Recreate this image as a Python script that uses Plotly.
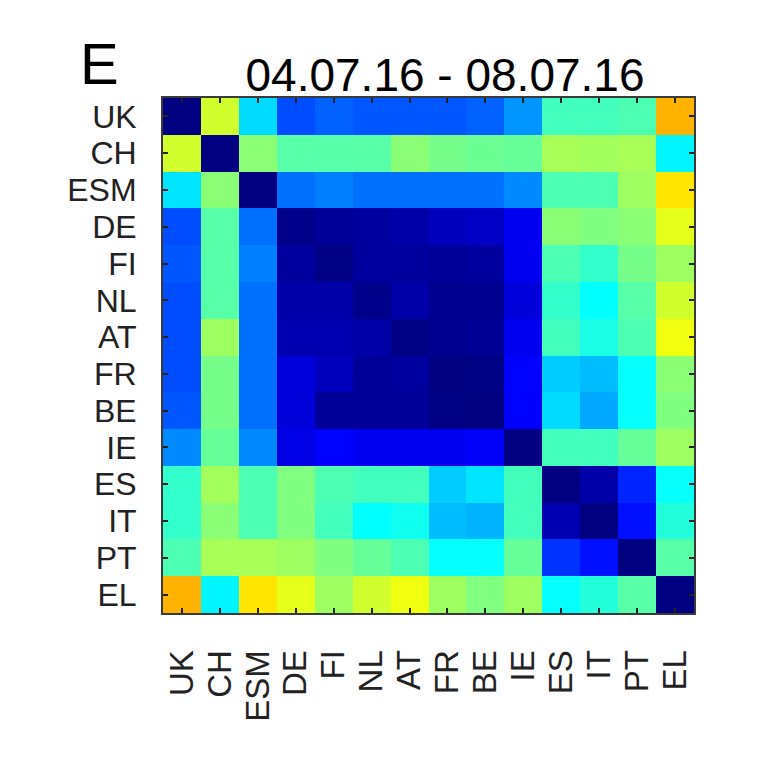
import plotly.graph_objects as go

labels = ["UK", "CH", "ESM", "DE", "FI", "NL", "AT", "FR", "BE", "IE", "ES", "IT", "PT", "EL"]

uk  = [0.00, 0.58, 0.34, 0.20, 0.22, 0.21, 0.21, 0.21, 0.22, 0.27, 0.44, 0.44, 0.45, 0.70]
ch  = [0.58, 0.00, 0.51, 0.46, 0.46, 0.46, 0.51, 0.49, 0.48, 0.475, 0.54, 0.535, 0.54, 0.365]
esm = [0.35, 0.51, 0.00, 0.235, 0.25, 0.235, 0.235, 0.235, 0.235, 0.26, 0.45, 0.45, 0.53, 0.65]
de  = [0.20, 0.46, 0.235, 0.01, 0.025, 0.03, 0.04, 0.06, 0.07, 0.11, 0.51, 0.50, 0.51, 0.60]
fi  = [0.21, 0.46, 0.25, 0.03, 0.005, 0.03, 0.03, 0.025, 0.03, 0.11, 0.45, 0.425, 0.49, 0.53]
nl  = [0.20, 0.46, 0.235, 0.04, 0.04, 0.01, 0.04, 0.015, 0.015, 0.09, 0.425, 0.375, 0.46, 0.58]
at  = [0.20, 0.53, 0.235, 0.05, 0.05, 0.04, 0.005, 0.015, 0.02, 0.11, 0.44, 0.40, 0.45, 0.61]
fr  = [0.20, 0.49, 0.235, 0.09, 0.06, 0.025, 0.03, 0.00, 0.005, 0.125, 0.325, 0.31, 0.38, 0.51]
be  = [0.21, 0.49, 0.235, 0.09, 0.025, 0.025, 0.025, 0.005, 0.00, 0.125, 0.34, 0.29, 0.38, 0.50]
ie  = [0.26, 0.475, 0.26, 0.10, 0.125, 0.11, 0.11, 0.11, 0.12, 0.00, 0.44, 0.44, 0.475, 0.53]
es  = [0.425, 0.535, 0.45, 0.50, 0.45, 0.44, 0.44, 0.325, 0.35, 0.44, 0.00, 0.04, 0.16, 0.38]
it  = [0.425, 0.51, 0.45, 0.50, 0.44, 0.375, 0.39, 0.31, 0.30, 0.44, 0.05, 0.00, 0.14, 0.41]
pt  = [0.45, 0.54, 0.54, 0.53, 0.50, 0.475, 0.45, 0.38, 0.38, 0.475, 0.175, 0.14, 0.00, 0.46]
el  = [0.70, 0.365, 0.65, 0.60, 0.53, 0.58, 0.61, 0.53, 0.50, 0.53, 0.38, 0.41, 0.46, 0.00]

z = [uk, ch, esm, de, fi, nl, at, fr, be, ie, es, it, pt, el]

jet = [[0.0, "rgb(0,0,128)"], [0.125, "rgb(0,0,255)"], [0.375, "rgb(0,255,255)"],
       [0.625, "rgb(255,255,0)"], [0.875, "rgb(255,0,0)"], [1.0, "rgb(128,0,0)"]]

fig = go.Figure(go.Heatmap(z=z, x=labels, y=labels, colorscale=jet, zmin=0, zmax=1,
                           showscale=False, xgap=0, ygap=0))

axis_common = dict(showline=True, linecolor="#3a3a3a", linewidth=2, mirror="allticks",
                   ticks="inside", ticklen=5, tickwidth=2, tickcolor="#222",
                   showgrid=False, zeroline=False, automargin=False,
                   tickmode="array", tickvals=labels, ticktext=labels)

fig.update_xaxes(**axis_common, tickangle=-90, ticklabelstandoff=22,
                 tickfont=dict(family="Liberation Sans, Arial", size=33, color="#222"))
fig.update_yaxes(**axis_common, autorange="reversed", ticklabelstandoff=18,
                 tickfont=dict(family="Liberation Sans, Arial", size=32, color="#222"))

fig.update_layout(
    width=770, height=771,
    margin=dict(l=155, r=84, t=90, b=166),
    paper_bgcolor="white", plot_bgcolor="white",
    title=dict(text="04.07.16 - 08.07.16", x=437/770, xanchor="center",
               y=1-67/771, yanchor="middle",
               font=dict(family="Liberation Sans, Arial", size=46, color="black")),
    annotations=[dict(text="E", xref="paper", yref="paper", x=(99-163)/531, y=1 + (98-64)/515,
                      xanchor="center", yanchor="middle", showarrow=False,
                      font=dict(family="Liberation Sans, Arial", size=58, color="black"))],
)

fig.write_html("out.html")
